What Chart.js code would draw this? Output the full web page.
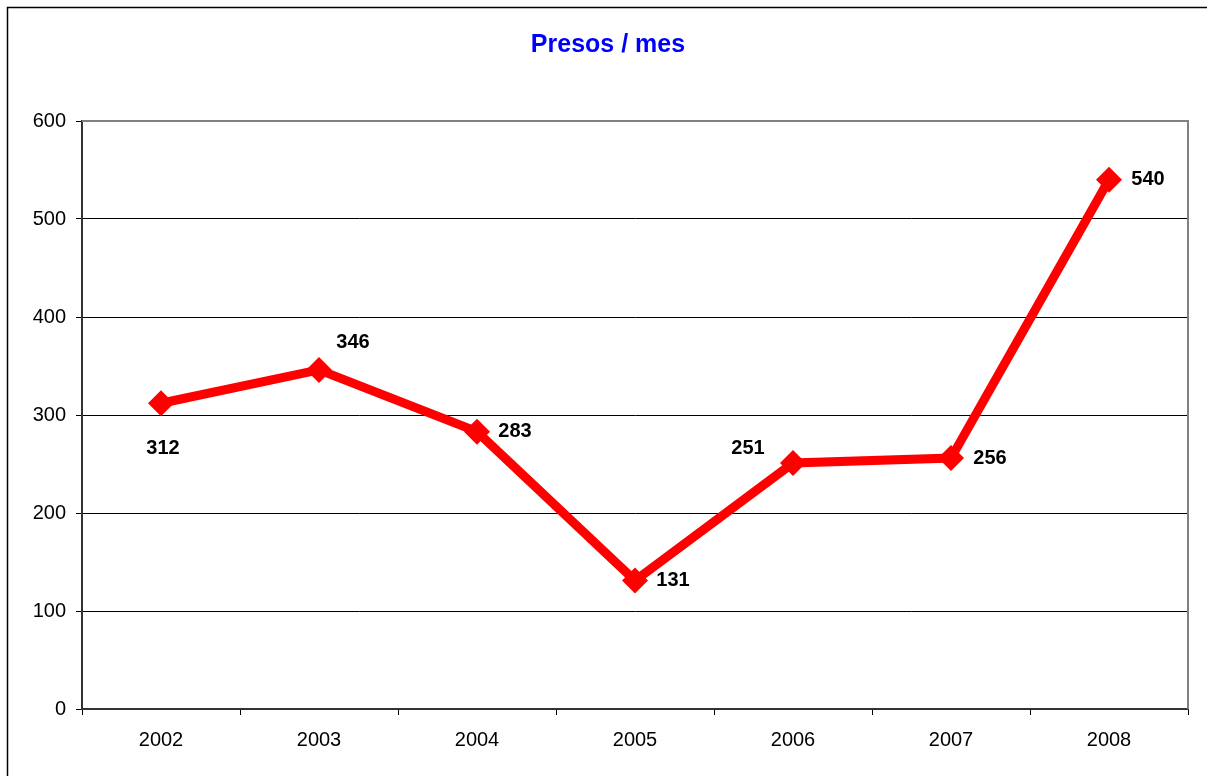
<!DOCTYPE html>
<html>
<head>
<meta charset="utf-8">
<script src="https://cdn.jsdelivr.net/npm/chart.js@4.4.0/dist/chart.umd.min.js"></script>
<style>
  html, body { margin: 0; padding: 0; background: #fff; }
  #wrap { width: 1207px; height: 776px; position: relative; }
</style>
</head>
<body>
<div id="wrap"><canvas id="c" width="1207" height="776"></canvas></div>
<script>
const chartTitle = "Presos / mes";
const years = ["2002", "2003", "2004", "2005", "2006", "2007", "2008"];
const presos = [312, 346, 283, 131, 251, 256, 540];
const yTicks = [0, 100, 200, 300, 400, 500, 600];
// label offsets (px) relative to each point
const labelDx = [2, 34, 38, 38, -45, 39, 39];
const labelDy = [45, -27, 0, 0, -15, 0, 0];

const FONT = "'Liberation Sans', Arial, sans-serif";

const decor = {
  id: 'decor',
  beforeDraw(chart) {
    const ctx = chart.ctx;
    ctx.save();
    ctx.fillStyle = '#fff';
    ctx.fillRect(0, 0, chart.width, chart.height);
    ctx.strokeStyle = '#000';
    ctx.lineWidth = 1.5;
    ctx.strokeRect(7.5, 7.5, chart.width + 20, chart.height + 20);
    ctx.fillStyle = '#0000FF';
    ctx.font = 'bold 25px ' + FONT;
    ctx.textAlign = 'center';
    ctx.textBaseline = 'middle';
    ctx.fillText(chartTitle, 608, 45);
    ctx.restore();
  },
  beforeDatasetsDraw(chart) {
    const a = chart.chartArea;
    const ctx = chart.ctx;
    ctx.save();
    ctx.strokeStyle = '#808080';
    ctx.lineWidth = 2;
    ctx.beginPath();
    ctx.moveTo(a.left, a.top);
    ctx.lineTo(a.right, a.top);
    ctx.lineTo(a.right, a.bottom);
    ctx.stroke();
    ctx.restore();
  },
  afterDatasetsDraw(chart) {
    const ctx = chart.ctx;
    const meta = chart.getDatasetMeta(0);
    ctx.save();
    ctx.fillStyle = '#000';
    ctx.font = 'bold 20px ' + FONT;
    ctx.textAlign = 'center';
    ctx.textBaseline = 'middle';
    meta.data.forEach((pt, i) => {
      ctx.fillText(String(presos[i]), pt.x + labelDx[i], pt.y + labelDy[i]);
    });
    ctx.restore();
  }
};

new Chart(document.getElementById('c'), {
  type: 'line',
  data: {
    labels: years,
    datasets: [{
      data: presos,
      borderColor: '#FF0000',
      backgroundColor: '#FF0000',
      borderWidth: 9,
      pointStyle: 'rectRot',
      pointRadius: 13,
      pointBorderWidth: 0,
      pointBackgroundColor: '#FF0000',
      tension: 0
    }]
  },
  options: {
    responsive: false,
    animation: false,
    devicePixelRatio: 1,
    layout: { padding: { top: 121, right: 19, left: 0, bottom: 0 } },
    plugins: { legend: { display: false }, title: { display: false }, tooltip: { enabled: false } },
    scales: {
      x: {
        offset: true,
        afterFit(s) { s.height = 67; },
        grid: { offset: true, drawOnChartArea: false, drawTicks: true, tickLength: 6, color: '#000', lineWidth: 1 },
        border: { color: '#333', width: 2 },
        ticks: { color: '#000', font: { family: FONT, size: 20 }, padding: 13, maxRotation: 0 }
      },
      y: {
        min: 0, max: 600,
        afterFit(s) { s.width = 82; },
        afterBuildTicks(s) { s.ticks = yTicks.map(v => ({ value: v })); },
        grid: { color: '#000', lineWidth: 1, drawTicks: true, tickLength: 6 },
        border: { color: '#333', width: 2 },
        ticks: { color: '#000', font: { family: FONT, size: 20 }, padding: 10 }
      }
    }
  },
  plugins: [decor]
});
</script>
</body>
</html>
